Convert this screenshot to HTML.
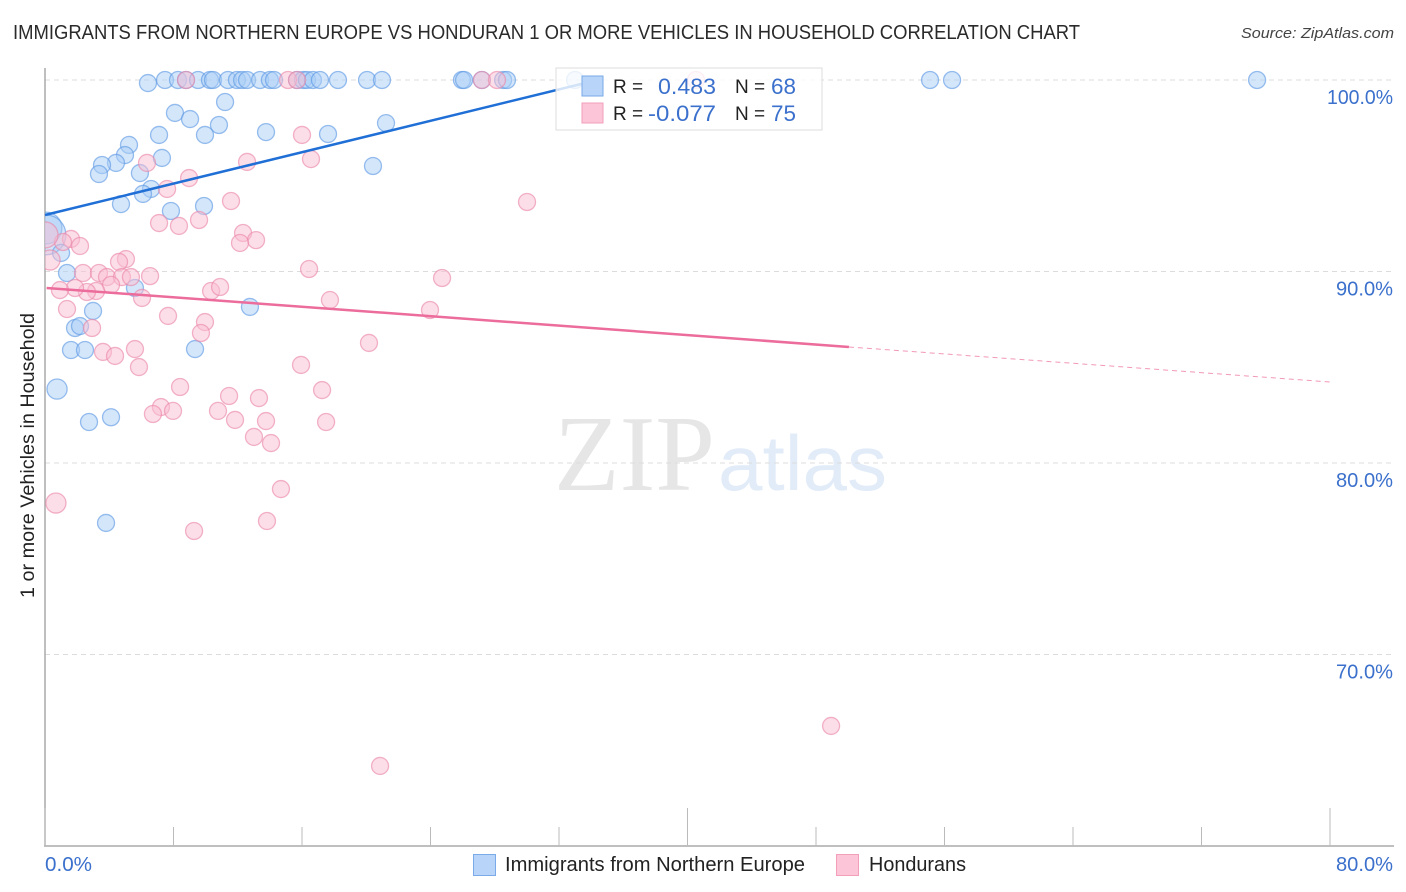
<!DOCTYPE html>
<html lang="en">
<head>
<meta charset="utf-8">
<title>Immigrants from Northern Europe vs Honduran 1 or more Vehicles in Household Correlation Chart</title>
<style>
html,body{margin:0;padding:0;background:#fff;}
svg{display:block;font-family:"Liberation Sans",sans-serif;}
</style>
</head>
<body>
<svg id="chart" xmlns="http://www.w3.org/2000/svg" width="1406" height="892" viewBox="0 0 1406 892">
  <defs>
    <clipPath id="plot-clip"><rect x="45" y="60" width="1349" height="786"/></clipPath>
  </defs>
  <text x="13" y="39" font-size="20" fill="#2a2a2a" textLength="1067" lengthAdjust="spacingAndGlyphs">IMMIGRANTS FROM NORTHERN EUROPE VS HONDURAN 1 OR MORE VEHICLES IN HOUSEHOLD CORRELATION CHART</text>
  <text x="1241" y="38" font-size="15" font-style="italic" fill="#444" textLength="153" lengthAdjust="spacingAndGlyphs">Source: ZipAtlas.com</text>
  <g id="watermark">
    <text x="554" y="490" font-family="'Liberation Serif',serif" font-size="108" fill="#e6e6e6" textLength="161" lengthAdjust="spacingAndGlyphs">ZIP</text>
    <text x="718" y="490" font-family="'Liberation Sans',sans-serif" font-size="78" fill="#e2ecf9" textLength="169" lengthAdjust="spacingAndGlyphs">atlas</text>
  </g>
  <g id="grid"></g>
  <g id="axes"></g>
  <g id="points" clip-path="url(#plot-clip)"></g>
  <g id="trends"></g>
  <g id="stat-legend">
    <rect x="556" y="68" width="266" height="62" fill="#fff" fill-opacity="0.8" stroke="#dcdcdc" stroke-width="1"/>
    <rect x="582" y="76" width="21" height="20" fill="#b8d4f8" stroke="#7aaae8" stroke-width="1"/>
    <rect x="582" y="103" width="21" height="20" fill="#fcc6d8" stroke="#f29fba" stroke-width="1"/>
    <text x="613" y="93" font-size="19" fill="#222">R =</text>
    <text x="716" y="94" font-size="22" fill="#3b70cc" text-anchor="end" textLength="58" lengthAdjust="spacingAndGlyphs">0.483</text>
    <text x="735" y="93" font-size="19" fill="#222">N =</text>
    <text x="771" y="94" font-size="22" fill="#3b70cc" textLength="25" lengthAdjust="spacingAndGlyphs">68</text>
    <text x="613" y="120" font-size="19" fill="#222">R =</text>
    <text x="716" y="121" font-size="22" fill="#3b70cc" text-anchor="end" textLength="68" lengthAdjust="spacingAndGlyphs">-0.077</text>
    <text x="735" y="120" font-size="19" fill="#222">N =</text>
    <text x="771" y="121" font-size="22" fill="#3b70cc" textLength="25" lengthAdjust="spacingAndGlyphs">75</text>
  </g>
  <text transform="translate(34,598) rotate(-90)" font-size="19" fill="#222" textLength="285" lengthAdjust="spacingAndGlyphs">1 or more Vehicles in Household</text>
  <g id="series-legend">
    <rect x="473.500" y="854.500" width="22" height="21" fill="#b8d4f8" stroke="#7aaae8" stroke-width="1"/>
    <text x="505" y="871" font-size="20" fill="#222" textLength="300" lengthAdjust="spacingAndGlyphs">Immigrants from Northern Europe</text>
    <rect x="836.500" y="854.500" width="22" height="21" fill="#fcc6d8" stroke="#f29fba" stroke-width="1"/>
    <text x="869" y="871" font-size="20" fill="#222" textLength="97" lengthAdjust="spacingAndGlyphs">Hondurans</text>
  </g>
</svg>
<script>
const yTicks = [100, 90, 80, 70];
const xTicks = [0, 8, 16, 24, 32, 40, 48, 56, 64, 72, 80];
const xMajorTicks = [0, 40, 80];
const xTickLabels = ["0.0%", "80.0%"];
const yTickLabels = ["100.0%", "90.0%", "80.0%", "70.0%"];

const blueX = [7.47,8.28,8.78,9.53,10.27,10.46,11.39,11.95,12.27,12.58,13.39,14.00,14.26,15.69,16.06,16.31,16.68,17.12,18.24,20.05,20.98,25.96,26.09,27.20,28.52,28.76,33.00,55.10,56.47,75.46,
  6.41,8.09,9.03,11.21,10.83,9.96,7.10,13.76,17.62,21.23,5.23,4.98,4.42,3.55,3.36,5.91,7.28,20.42,6.60,6.10,4.73,7.84,9.90,0.06,0.06,1.00,1.37,5.60,12.76,2.99,1.87,2.18,1.62,2.49,9.34,0.75,4.11,2.74,3.80];
const blueY = [100,100,100,100,100,100,100,100,100,100,100,100,100,100,100,100,100,100,100,100,100,100,100,100,100,100,100,100,100,100,
  99.84,98.28,97.96,98.85,97.65,97.13,97.13,97.28,97.18,97.75,96.61,96.08,95.67,95.56,95.09,95.14,95.93,95.51,94.31,94.05,93.52,93.16,93.42,92.27,91.91,90.97,89.92,89.14,88.15,87.94,87.05,87.15,85.90,85.90,85.95,83.86,82.39,82.14,76.87];
const blueWeight = [1,1,1,1,1,1,1,1,1,1,1,1,1,1,1,1,1,1,1,1,1,1,1,1,1,1,1,1,1,1,
  1,1,1,1,1,1,1,1,1,1,1,1,1,1,1,1,1,1,1,1,1,1,1,3.5,5.5,1,1,1,1,1,1,1,1,1,1,1.4,1,1,1];

const pinkX = [8.78,15.13,15.69,27.20,28.14,40.53,
  16.00,16.56,12.58,6.35,8.97,7.60,11.58,30.01,7.10,8.34,9.59,12.33,13.14,12.14,1.62,2.18,1.12,0.00,0.31,5.04,4.61,16.44,2.37,3.36,3.86,4.79,5.35,6.54,24.72,4.11,3.18,2.61,1.87,0.93,10.34,10.90,6.04,17.74,1.37,23.97,7.66,9.96,2.93,9.71,20.17,3.61,4.36,5.60,5.85,15.94,8.41,17.25,11.46,13.32,7.22,6.72,7.97,10.77,11.83,13.76,17.50,13.01,14.07,14.69,0.68,13.82,9.28,48.94,20.86];
const pinkY = [100,100,100,100,100,100,
  97.13,95.87,95.72,95.67,94.88,94.31,93.68,93.63,92.53,92.38,92.69,92.01,91.64,91.49,91.70,91.33,91.54,91.91,90.60,90.65,90.50,90.13,89.92,89.92,89.71,89.71,89.71,89.76,89.66,89.30,88.98,88.93,89.14,89.03,88.98,89.19,88.62,88.51,88.04,87.99,87.68,87.36,87.05,86.79,86.27,85.80,85.59,85.95,85.01,85.12,83.97,83.81,83.50,83.39,82.92,82.56,82.72,82.72,82.25,82.19,82.14,81.36,81.04,78.64,77.91,76.97,76.45,66.27,64.18];
const pinkWeight = [1,1,1,1,1,1,
  1,1,1,1,1,1,1,1,1,1,1,1,1,1,1,1,1,2.34,1.4,1,1,1,1,1,1,1,1,1,1,1,1,1,1,1,1,1,1,1,1,1,1,1,1,1,1,1,1,1,1,1,1,1,1,1,1,1,1,1,1,1,1,1,1,1,1.4,1,1,1,1];

const blueTrendX = [0, 34.4];
const blueTrendY = [92.95, 100];
const pinkTrendX = [0.1, 50.05];
const pinkTrendY = [89.14, 86.06];
const pinkForecastX = [50.05, 80];
const pinkForecastY = [86.06, 84.23];

const NS = "http://www.w3.org/2000/svg";
function xScale(v){ return 45 + v * (1285 / 80); }
function yScale(v){ return 80 + (100 - v) * 19.15; }
function rScale(w){ return 8.5 * Math.sqrt(w); }
function make(tag, attrs, parent){
  const el = document.createElementNS(NS, tag);
  for (const k in attrs) el.setAttribute(k, attrs[k]);
  parent.appendChild(el);
  return el;
}

const grid = document.getElementById("grid");
const axes = document.getElementById("axes");
const points = document.getElementById("points");
const trends = document.getElementById("trends");

yTicks.forEach(function(t, i){
  const line = make("line", {x1:45, x2:1394, y1:yScale(t), y2:yScale(t), stroke:"#dcdcdc", "stroke-width":1, "stroke-dasharray":"5 4"}, grid);
  
  
  const label = make("text", {x:1393, y:yScale(t) + 24, "font-size":20, fill:"#3b70cc", "text-anchor":"end", textLength:(i === 0 ? 66 : 57), lengthAdjust:"spacingAndGlyphs"}, axes);
  
  
  label.textContent = yTickLabels[i];
});

const yAxisLine = make("line", {x1:45, x2:45, y1:68, y2:846, stroke:"#aaa", "stroke-width":1.5}, axes);


const xAxisLine = make("line", {x1:44, x2:1394, y1:846, y2:846, stroke:"#aaa", "stroke-width":1.5}, axes);



xTicks.forEach(function(t){
  const top = xMajorTicks.indexOf(t) >= 0 ? 808 : 827;
  const tick = make("line", {x1:xScale(t), x2:xScale(t), y1:top, y2:846, stroke:"#bbb", "stroke-width":1}, axes);
  
  
});

const xLabelStart = make("text", {x:xScale(0), y:871, "font-size":20, fill:"#3b70cc", textLength:47, lengthAdjust:"spacingAndGlyphs"}, axes);


xLabelStart.textContent = xTickLabels[0];
const xLabelEnd = make("text", {x:1393, y:871, "font-size":20, fill:"#3b70cc", "text-anchor":"end", textLength:57, lengthAdjust:"spacingAndGlyphs"}, axes);


xLabelEnd.textContent = xTickLabels[1];

blueX.forEach(function(x, i){
  const c = make("circle", {cx:xScale(x), cy:yScale(blueY[i]), r:rScale(blueWeight[i]), fill:"#a9cdf6", "fill-opacity":0.5, stroke:"#5c97e4", "stroke-opacity":0.62, "stroke-width":1.3}, points);
  
  
});
pinkX.forEach(function(x, i){
  const c = make("circle", {cx:xScale(x), cy:yScale(pinkY[i]), r:rScale(pinkWeight[i]), fill:"#f9bdd2", "fill-opacity":0.5, stroke:"#ea86a8", "stroke-opacity":0.62, "stroke-width":1.3}, points);
  
  
});

const blueTrend = make("line", {x1:xScale(blueTrendX[0]), y1:yScale(blueTrendY[0]), x2:xScale(blueTrendX[1]), y2:yScale(blueTrendY[1]), stroke:"#1f6fd6", "stroke-width":2.5}, trends);


const pinkTrend = make("line", {x1:xScale(pinkTrendX[0]), y1:yScale(pinkTrendY[0]), x2:xScale(pinkTrendX[1]), y2:yScale(pinkTrendY[1]), stroke:"#ec6c9b", "stroke-width":2.5}, trends);


const pinkForecast = make("line", {x1:xScale(pinkForecastX[0]), y1:yScale(pinkForecastY[0]), x2:xScale(pinkForecastX[1]), y2:yScale(pinkForecastY[1]), stroke:"#ec6c9b", "stroke-width":1, "stroke-dasharray":"5 4", "stroke-opacity":0.7}, trends);


</script>
</body>
</html>
